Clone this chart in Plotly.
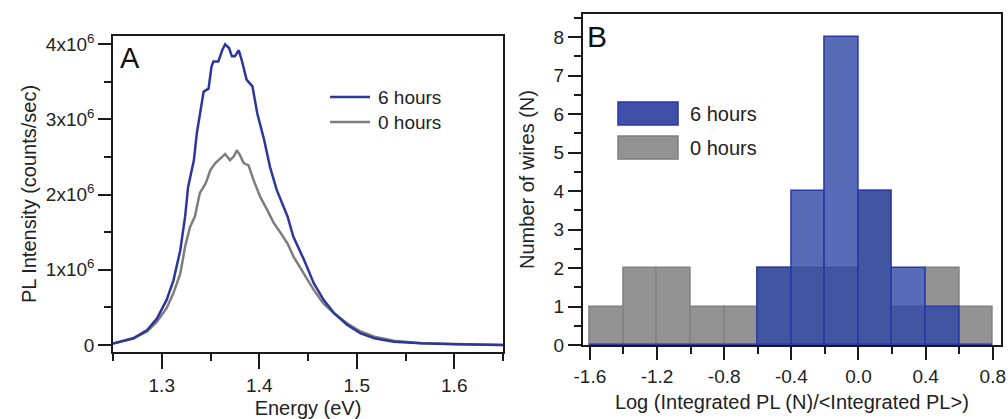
import numpy as np
import plotly.graph_objects as go

# ---- Panel A: PL spectra (intensity in units of 1e6 counts/sec) ----
energy_6h = [1.250, 1.271, 1.285, 1.295, 1.305, 1.312, 1.319, 1.324, 1.327, 1.333,
             1.336, 1.339, 1.343, 1.348, 1.351, 1.353, 1.358, 1.362, 1.365, 1.369,
             1.372, 1.375, 1.379, 1.382, 1.387, 1.393, 1.398, 1.405, 1.411, 1.418,
             1.429, 1.435, 1.446, 1.456, 1.466, 1.477, 1.490, 1.504, 1.518, 1.538,
             1.566, 1.600, 1.650]
pl_6h = [0.02, 0.09, 0.20, 0.35, 0.60, 0.86, 1.26, 1.71, 2.10, 2.46,
         2.82, 3.08, 3.37, 3.41, 3.70, 3.77, 3.77, 3.92, 4.00, 3.95,
         3.84, 3.84, 3.92, 3.79, 3.53, 3.44, 3.08, 2.73, 2.37, 2.06,
         1.71, 1.44, 1.13, 0.82, 0.60, 0.42, 0.27, 0.155, 0.09, 0.044,
         0.022, 0.010, 0.0]

energy_0h = [1.250, 1.271, 1.285, 1.295, 1.305, 1.312, 1.319, 1.324, 1.329, 1.334,
             1.339, 1.345, 1.350, 1.355, 1.360, 1.365, 1.370, 1.374, 1.377, 1.380,
             1.384, 1.389, 1.394, 1.401, 1.408, 1.415, 1.422, 1.429, 1.435, 1.446,
             1.456, 1.466, 1.477, 1.490, 1.504, 1.518, 1.538, 1.566, 1.600, 1.650]
pl_0h = [0.02, 0.09, 0.18, 0.31, 0.49, 0.69, 0.95, 1.31, 1.57, 1.71,
         2.02, 2.15, 2.33, 2.42, 2.48, 2.54, 2.46, 2.51, 2.59, 2.53,
         2.42, 2.39, 2.20, 1.97, 1.80, 1.62, 1.49, 1.35, 1.18, 0.95,
         0.73, 0.55, 0.42, 0.29, 0.18, 0.11, 0.058, 0.022, 0.010, 0.0]

# ---- Panel B: histogram of log integrated PL ----
bin_edges = [-1.6, -1.4, -1.2, -1.0, -0.8, -0.6, -0.4, -0.2, 0.0, 0.2, 0.4, 0.6, 0.8]
counts_0h = [1, 2, 2, 1, 1, 2, 2, 2, 4, 1, 2, 1]
counts_6h = [0, 0, 0, 0, 0, 2, 4, 8, 4, 2, 1, 0]

edges = np.array(bin_edges)
centers = (edges[:-1] + edges[1:]) / 2
widths = np.diff(edges)

BLUE_LINE = "#2c379c"
GRAY_LINE = "#7d7d7d"
FONT = "Liberation Sans, Arial, sans-serif"
AX = "#1a1a1a"

fig = go.Figure()

fig.add_trace(go.Scatter(x=energy_0h, y=np.array(pl_0h) * 1e6, mode="lines",
                         line=dict(color=GRAY_LINE, width=2.5), name="0 hours",
                         xaxis="x", yaxis="y", showlegend=False))
fig.add_trace(go.Scatter(x=energy_6h, y=np.array(pl_6h) * 1e6, mode="lines",
                         line=dict(color=BLUE_LINE, width=2.5), name="6 hours",
                         xaxis="x", yaxis="y", showlegend=False))

fig.add_trace(go.Bar(x=centers, y=counts_0h, width=widths, name="0 hours",
                     marker=dict(color="#939393", line=dict(color="#818181", width=1.5)),
                     xaxis="x2", yaxis="y2", showlegend=False))
fig.add_trace(go.Bar(x=centers, y=counts_6h, width=widths, name="6 hours",
                     marker=dict(color="rgba(46,70,165,0.80)",
                                 line=dict(color="#2a38a8", width=1.5)),
                     xaxis="x2", yaxis="y2", showlegend=False))

common_axis = dict(showline=True, linecolor=AX, linewidth=1.5, mirror=True,
                   ticks="outside", tickcolor=AX, tickwidth=1.5, showgrid=False,
                   zeroline=False, automargin=False,
                   tickfont=dict(family=FONT, size=19, color="#222"))

fig.update_layout(
    width=1008, height=419,
    margin=dict(l=0, r=0, t=0, b=0),
    paper_bgcolor="white", plot_bgcolor="white",
    barmode="overlay", bargap=0,
    font=dict(family=FONT, color="#222"),
    xaxis=dict(common_axis, domain=[113 / 1008, 503 / 1008], anchor="y",
               range=[1.25, 1.65], tickvals=[1.3, 1.4, 1.5, 1.6],
               ticktext=["1.3", "1.4", "1.5", "1.6"], ticklen=15,
               minor=dict(dtick=0.05, tick0=1.25, ticklen=7, tickcolor=AX, tickwidth=1.5),
               title=dict(text="Energy (eV)", font=dict(family=FONT, size=20), standoff=6)),
    yaxis=dict(common_axis, domain=[1 - 352 / 419, 1 - 36 / 419], anchor="x",
               range=[-0.093e6, 4.11e6],
               tickvals=[0, 1e6, 2e6, 3e6, 4e6],
               ticktext=["0", "1x10<sup>6</sup>", "2x10<sup>6</sup>",
                         "3x10<sup>6</sup>", "4x10<sup>6</sup>"],
               ticklen=13,
               minor=dict(dtick=0.5e6, tick0=0, ticklen=7, tickcolor=AX, tickwidth=1.5),
               title=dict(text="PL Intensity (counts/sec)", font=dict(family=FONT, size=20),
                          standoff=4)),
    xaxis2=dict(common_axis, domain=[582.7 / 1008, 1001 / 1008], anchor="y2",
                range=[-1.643, 0.849],
                tickvals=[-1.6, -1.2, -0.8, -0.4, 0.0, 0.4, 0.8],
                ticktext=["-1.6", "-1.2", "-0.8", "-0.4", "0.0", "0.4", "0.8"],
                ticklen=13,
                minor=dict(dtick=0.2, tick0=-1.6, ticklen=7, tickcolor=AX, tickwidth=1.5),
                title=dict(text="Log (Integrated PL (N)/<Integrated PL>)",
                           font=dict(family=FONT, size=20), standoff=9)),
    yaxis2=dict(common_axis, domain=[1 - 345 / 419, 1 - 14 / 419], anchor="x2",
                range=[0, 8.6], tickvals=list(range(0, 9)), ticklen=13,
                minor=dict(dtick=0.5, tick0=0, ticklen=7, tickcolor=AX, tickwidth=1.5),
                title=dict(text="Number of wires (N)", font=dict(family=FONT, size=20),
                           standoff=14)),
)

# panel letters
fig.add_annotation(text="A", x=118 / 1008, y=1 - 40 / 419, xref="paper", yref="paper",
                   xanchor="left", yanchor="top", showarrow=False,
                   font=dict(family=FONT, size=29, color="#111"))
fig.add_annotation(text="B", x=585 / 1008, y=1 - 18 / 419, xref="paper", yref="paper",
                   xanchor="left", yanchor="top", showarrow=False,
                   font=dict(family=FONT, size=30, color="#111"))

# legend A (line samples)
for label, color, ypx in [("6 hours", BLUE_LINE, 97), ("0 hours", GRAY_LINE, 122)]:
    fig.add_shape(type="line", xref="paper", yref="paper",
                  x0=330 / 1008, x1=370 / 1008, y0=1 - ypx / 419, y1=1 - ypx / 419,
                  line=dict(color=color, width=2.5))
    fig.add_annotation(text=label, x=376 / 1008, y=1 - ypx / 419, xref="paper", yref="paper",
                       xanchor="left", yanchor="middle", showarrow=False,
                       font=dict(family=FONT, size=19, color="#222"))

# legend B (box swatches)
for label, fill, edge, ytop, ybot in [("6 hours", "#3f4fa8", "#2a38a8", 102, 125),
                                      ("0 hours", "#939393", "#7f7f7f", 136, 159)]:
    fig.add_shape(type="rect", xref="paper", yref="paper",
                  x0=618 / 1008, x1=678 / 1008, y0=1 - ybot / 419, y1=1 - ytop / 419,
                  fillcolor=fill, line=dict(color=edge, width=1.5))
    fig.add_annotation(text=label, x=688 / 1008, y=1 - (ytop + ybot) / 2 / 419,
                       xref="paper", yref="paper", xanchor="left", yanchor="middle",
                       showarrow=False, font=dict(family=FONT, size=20, color="#222"))

# the page body has a default 8px margin; drop it so the figure sits at the window corner
fig.write_html("out.html", config={"displayModeBar": False},
               post_script="document.body.style.margin='0';")
